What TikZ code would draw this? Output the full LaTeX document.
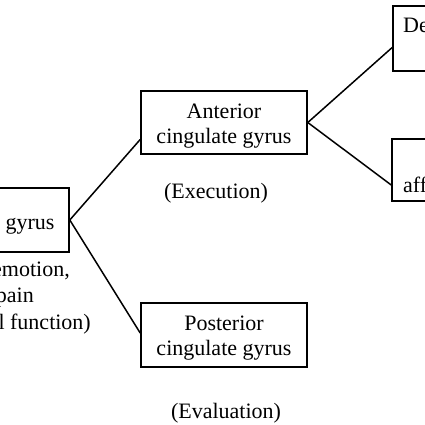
\documentclass[tikz,border=0pt]{standalone}
\usepackage{fontspec}
\setmainfont{Liberation Serif}
\begin{document}
\begin{tikzpicture}[x=1pt,y=-1pt,
  box/.style={draw=black, line width=1.6pt, rectangle, inner sep=0pt},
  lbl/.style={inner sep=0pt, font=\fontsize{22}{25.5}\selectfont},
  conn/.style={line width=1.5pt, black}]
\useasboundingbox (0,0) rectangle (425,425);
\clip (0,0) rectangle (425,425);
% boxes
\node[box, minimum width=77pt, minimum height=64pt] (lbox) at (30.5,220) {};
\node[box, minimum width=166pt, minimum height=63pt] (ant) at (224,122.5) {};
\node[box, minimum width=166pt, minimum height=64pt] (post) at (224,335) {};
\node[box, minimum width=110pt, minimum height=65pt] (tr) at (448,38.5) {};
\node[box, minimum width=110pt, minimum height=62pt] (br) at (447,170) {};
% texts
\node[lbl, anchor=base] (lboxt) at (30,229) {gyrus};
\node[lbl, anchor=base] (ant1) at (224,118) {Anterior};
\node[lbl, anchor=base] (ant2) at (224,143.5) {cingulate gyrus};
\node[lbl, anchor=base] (post1) at (224,330) {Posterior};
\node[lbl, anchor=base] (post2) at (224,355.5) {cingulate gyrus};
\node[lbl, anchor=base west] (trt) at (403,33) {De};
\node[lbl, anchor=base west] (brt) at (403,192) {aff};
\node[lbl, anchor=base east] (l1) at (70,276) {emotion,};
\node[lbl, anchor=base east] (l2) at (34,302) {pain};
\node[lbl, anchor=base east] (l3) at (91,329) {l function)};
\node[lbl, anchor=base] (exe) at (216,198) {(Execution)};
\node[lbl, anchor=base] (eva) at (226,418) {(Evaluation)};
% connectors
\coordinate (antin) at ([yshift=-17pt]ant.west);
\coordinate (postin) at ([yshift=2pt]post.west);
\coordinate (trin) at ([yshift=-9pt]tr.west);
\coordinate (brin) at ([yshift=-15pt]br.west);
\draw[conn] (lbox.east) -- (antin);
\draw[conn] (lbox.east) -- (postin);
\draw[conn] (ant.east) -- (trin);
\draw[conn] (ant.east) -- (brin);
\end{tikzpicture}
\end{document}
